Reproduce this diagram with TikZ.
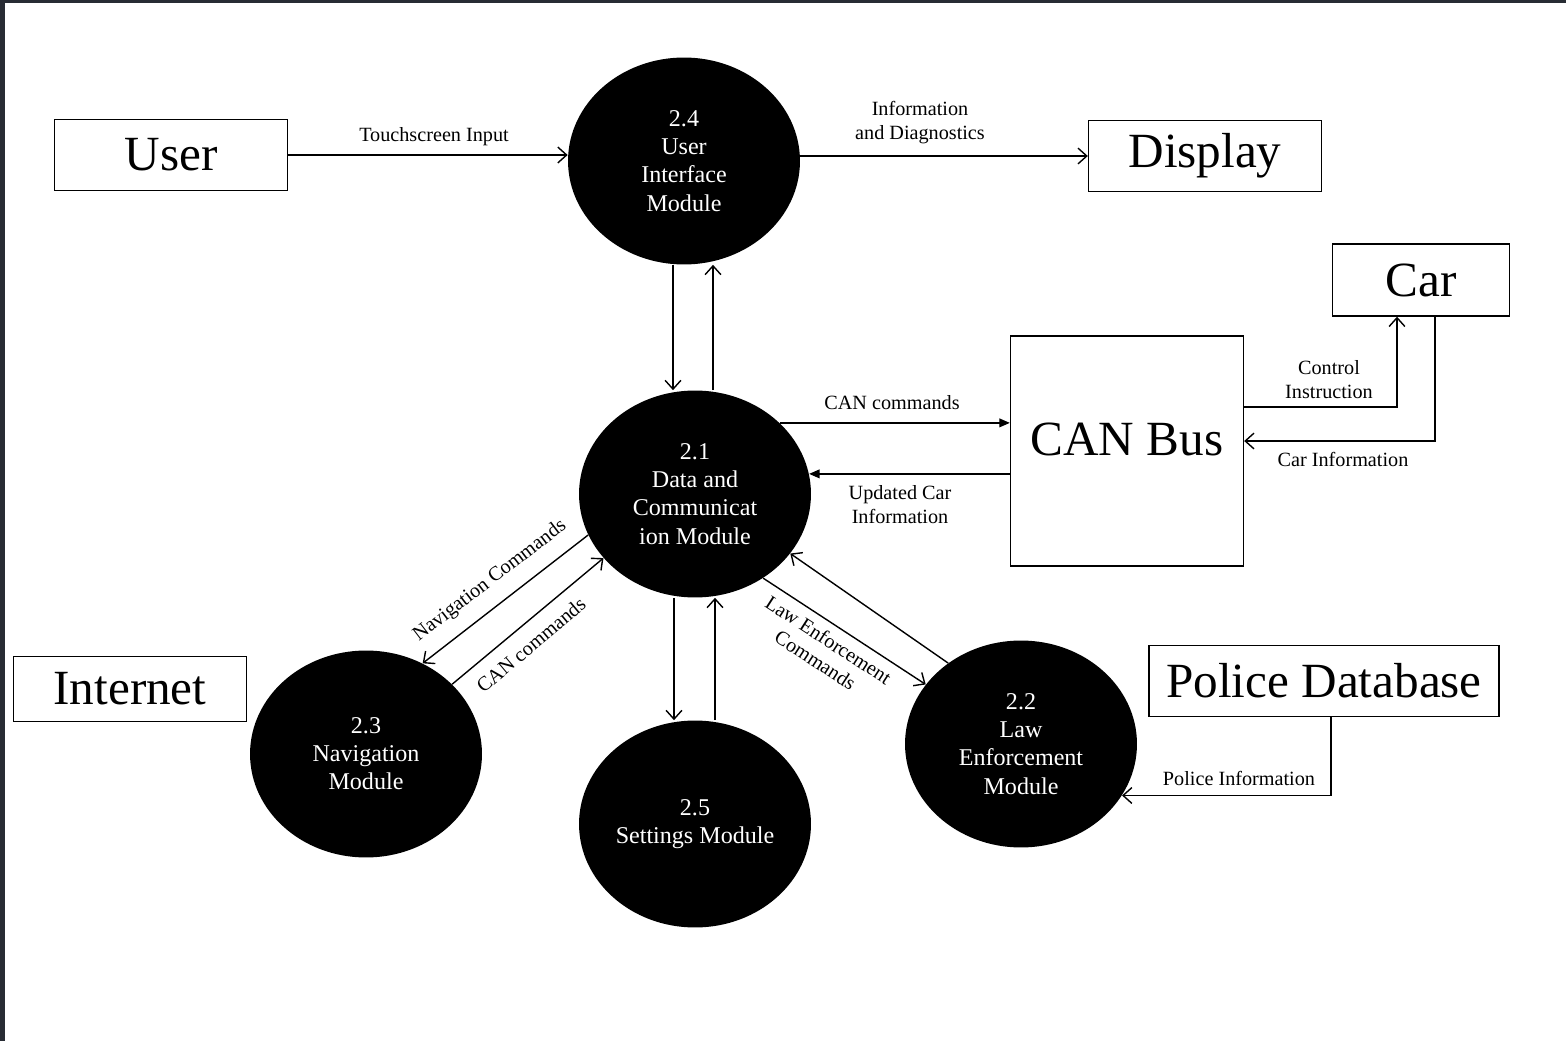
\documentclass[tikz,border=0pt]{standalone}
\usepackage{fontspec}
\setmainfont{Liberation Serif}
\usetikzlibrary{shapes.geometric,arrows.meta,calc}
\definecolor{framegray}{RGB}{40,44,52}
\begin{document}
\begin{tikzpicture}[x=0.02cm,y=-0.02cm,
  ext/.style={draw,line width=0.8pt,minimum width=4.66cm,minimum height=1.42cm,inner sep=0pt,font=\fontsize{28}{30}\selectfont},
  proc/.style={ellipse,fill=black,text=white,minimum width=4.64cm,minimum height=4.14cm,inner sep=0pt,align=center,font=\fontsize{13.7}{16}\selectfont},
  flow/.style={line width=0.8pt,-{Straight Barb[length=5pt,width=9pt]}},
  cmd/.style={line width=0.8pt,-{Triangle[length=6pt,width=5pt]}},
  lbl/.style={align=center,inner sep=0pt,font=\fontsize{11.5}{13.6}\selectfont}]
  \useasboundingbox (0,0) rectangle (1566,1041);
  \fill[framegray] (0,0) rectangle (5,1041);
  \fill[framegray] (0,0) rectangle (1566,3);

  \node[ext] (user) at (171,155) {User};
  \node[ext] (disp) at (1205,156) {Display};
  \node[ext,minimum width=3.54cm,minimum height=1.44cm] (car) at (1421,280) {Car};
  \node[ext,minimum height=4.6cm,text depth=13pt] (can) at (1127,451) {CAN Bus};
  \node[ext,minimum width=7cm] (pol) at (1324,681) {Police Database};
  \node[ext,minimum height=1.3cm] (net) at (130,689) {Internet};

  \node[proc] (ui) at (684,161) {2.4\\User\\Interface\\Module};
  \node[proc] (dc) at (695,494) {2.1\\Data and\\Communicat\\ion Module};
  \node[proc] (nav) at (366,754) {2.3\\Navigation\\Module};
  \node[proc] (set) at (695,824) {2.5\\Settings Module};
  \node[proc] (law) at (1021,744) {2.2\\Law\\Enforcement\\Module};

  \draw[flow] (user.east) -- (user.east -| ui.west);
  \draw[flow] (disp.west -| ui.east) -- (disp.west);
  \draw[flow] ($(ui.south)+(-11,0)$) -- ($(dc.north)+(-22,0)$);
  \draw[flow] ($(dc.north)+(18,0)$) -- ($(ui.south)+(29,0)$);
  \draw[cmd] (dc.40) -- (dc.40 -| can.west);
  \draw[cmd] (can.west |- dc.10) -- (dc.10);
  \draw[flow] ($(can.east)+(0,-44)$) -| ($(car.south)+(-24,0)$);
  \draw[flow] ($(car.south)+(14,0)$) |- ($(can.east)+(0,-10)$);
  \draw[flow] ($(pol.south)+(7,0)$) |- (law.-27);
  \draw[flow] (dc.201) -- (nav.58);
  \draw[flow] (nav.39) -- (dc.215);
  \draw[flow] (dc.-51) -- (law.148);
  \draw[flow] (law.132) -- (dc.-32);
  \draw[flow] ($(dc.south)+(-21,0)$) -- ($(set.north)+(-21,0)$);
  \draw[flow] ($(set.north)+(20,0)$) -- ($(dc.south)+(20,0)$);

  \node[lbl] (touch) at (434,137) {Touchscreen Input};
  \node[lbl] (diag) at (920,123) {Information\\and Diagnostics};
  \node[lbl] (cancmd) at (892,403) {CAN commands};
  \node[lbl] (upd) at (900,505) {Updated Car\\Information};
  \node[lbl] (ctrl) at (1329,380) {Control\\Instruction};
  \node[lbl] (carinfo) at (1343,459) {Car Information};
  \node[lbl] (polinfo) at (1239,778) {Police Information};
  \node[lbl,rotate=37.5] (navcmd) at (490,581) {Navigation Commands};
  \node[lbl,rotate=40] (navcan) at (531,645) {CAN commands};
  \node[lbl,rotate=-33] (lawcmd) at (822,650) {Law Enforcement\\Commands};
\end{tikzpicture}
\end{document}
